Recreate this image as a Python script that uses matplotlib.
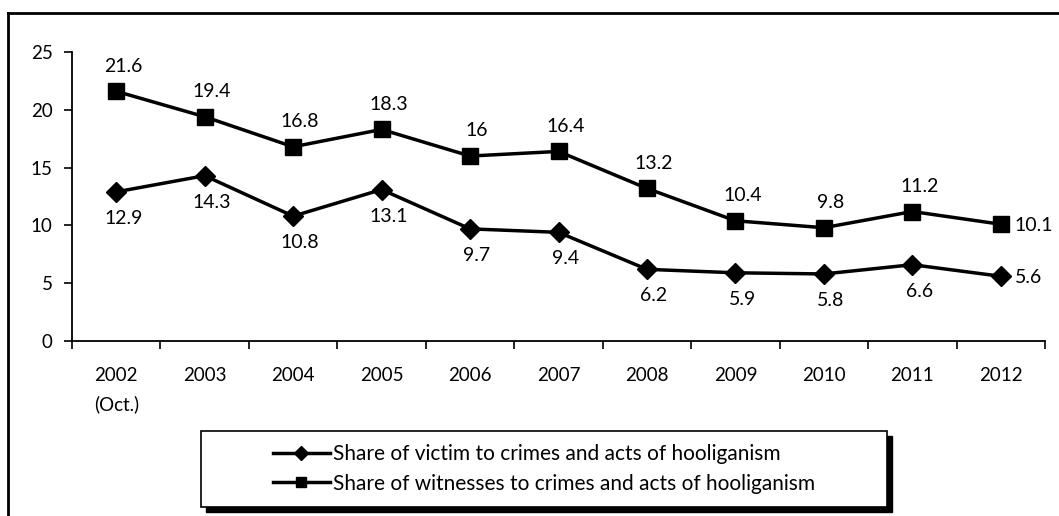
import numpy as np
import matplotlib.pyplot as plt
from matplotlib.lines import Line2D
from matplotlib.patches import Rectangle

plt.rcParams['font.family'] = ['Lato', 'DejaVu Sans']

# Data
years = ['2002\n(Oct.)', '2003', '2004', '2005', '2006', '2007',
         '2008', '2009', '2010', '2011', '2012']
victims = [12.9, 14.3, 10.8, 13.1, 9.7, 9.4, 6.2, 5.9, 5.8, 6.6, 5.6]
witnesses = [21.6, 19.4, 16.8, 18.3, 16, 16.4, 13.2, 10.4, 9.8, 11.2, 10.1]
victim_label = 'Share of victim to crimes and acts of hooliganism'
witness_label = 'Share of witnesses to crimes and acts of hooliganism'

W, H = 1059, 516
FS = 14
fig = plt.figure(figsize=(W / 100, H / 100), dpi=100)
ax = fig.add_axes([72 / W, 1 - 341 / H, (1045 - 72) / W, (341 - 52) / H])

x = np.arange(len(years))
ax.plot(x, witnesses, color='black', lw=2.5, marker='s', ms=11, zorder=3)
ax.plot(x, victims, color='black', lw=2.5, marker='D', ms=10, zorder=3)

# data labels (last point labelled on the right, others above / below)
for series, dy, va in [(witnesses, 12, 'bottom'), (victims, -13, 'top')]:
    for i, v in enumerate(series):
        if i == len(x) - 1:
            ax.annotate(f'{v:g}', (i, v), xytext=(10, -1), textcoords='offset points',
                        ha='left', va='center', fontsize=FS)
        else:
            ax.annotate(f'{v:g}', (i, v), xytext=(5, dy), textcoords='offset points',
                        ha='center', va=va, fontsize=FS)

ax.set_xlim(-0.5, len(x) - 0.5)
ax.set_ylim(0, 25)
ax.set_yticks([0, 5, 10, 15, 20, 25])
ax.set_xticks(x)
ax.set_xticklabels(years, fontsize=13.5, linespacing=1.75)
ax.set_xticks(np.arange(-0.5, len(x)), minor=True)
ax.tick_params(axis='x', which='major', length=0, pad=19)
ax.tick_params(axis='x', which='minor', length=6, direction='out', width=1.2)
ax.tick_params(axis='y', length=6, width=1.2, labelsize=13.5, pad=8)
for s in ['top', 'right']:
    ax.spines[s].set_visible(False)
for s in ['left', 'bottom']:
    ax.spines[s].set_linewidth(1.3)

# legend box with shadow
lx0, ly0, lx1, ly1 = 201, 431, 887, 507
fig.patches.append(Rectangle(((lx0 + 5) / W, 1 - (ly1 + 5) / H), (lx1 - lx0) / W,
                             (ly1 - ly0) / H, transform=fig.transFigure,
                             facecolor='black', edgecolor='black'))
fig.patches.append(Rectangle((lx0 / W, 1 - ly1 / H), (lx1 - lx0) / W, (ly1 - ly0) / H,
                             transform=fig.transFigure, facecolor='white',
                             edgecolor='black', lw=1.2))
handles = [Line2D([], [], color='black', lw=2.5, marker='D', ms=7),
           Line2D([], [], color='black', lw=2.5, marker='s', ms=7)]
fig.legend(handles, [victim_label, witness_label], loc='center',
           bbox_to_anchor=((lx0 + lx1) / 2 / W, 1 - (ly0 + ly1) / 2 / H),
           frameon=False, fontsize=15, handlelength=2.75, handletextpad=0.15,
           labelspacing=0.45)

# outer frame (top and left edges visible)
fig.add_artist(Line2D([8 / W, 8 / W], [0, 1 - 13 / H], color='black', lw=2,
                      transform=fig.transFigure))
fig.add_artist(Line2D([8 / W, 1], [1 - 13 / H, 1 - 13 / H], color='black', lw=2,
                      transform=fig.transFigure))

fig.savefig('out.png', dpi=100)
